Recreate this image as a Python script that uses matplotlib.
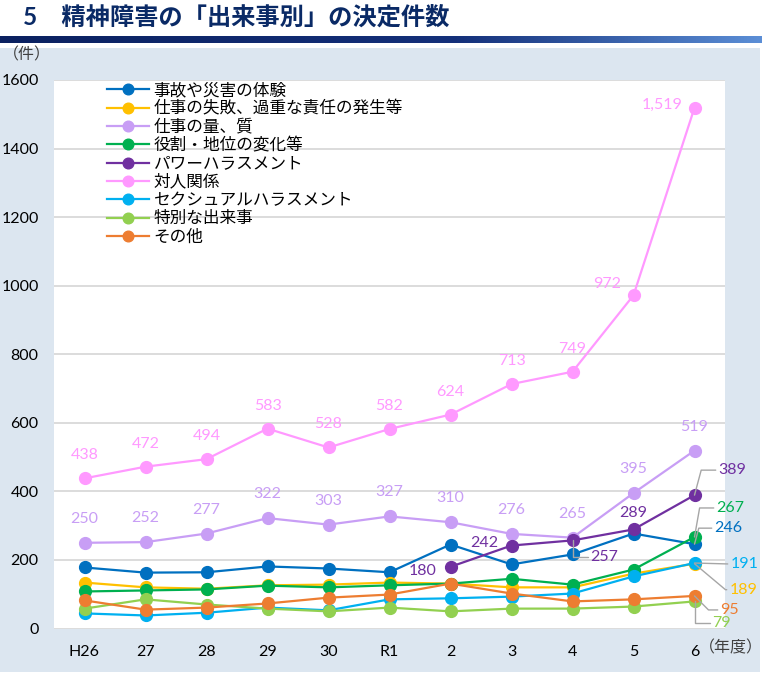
import numpy as np
import matplotlib
matplotlib.use("Agg")
import matplotlib.pyplot as plt
from matplotlib.patches import Rectangle
from matplotlib.colors import LinearSegmentedColormap

plt.rcParams['font.family'] = ['Lato', 'Noto Sans CJK JP', 'DejaVu Sans']

# fiscal years
years = ['H26', '27', '28', '29', '30', 'R1', '2', '3', '4', '5', '6']

# decided cases by event type
jiko = [178, 163, 164, 181, 175, 164, 245, 187, 216, 277, 246]
shippai = [134, 120, 116, 126, 128, 134, 131, 120, 120, 160, 189]
ryo_shitsu = [250, 252, 277, 322, 303, 327, 310, 276, 265, 395, 519]
yakuwari = [108, 111, 114, 125, 120, 126, 131, 145, 128, 172, 267]
pawahara = [np.nan] * 6 + [180, 242, 257, 289, 389]
taijin = [438, 472, 494, 583, 528, 582, 624, 713, 749, 972, 1519]
sekuhara = [44, 38, 46, 61, 53, 85, 88, 93, 102, 152, 191]
tokubetsu = [58, 85, 70, 58, 50, 61, 50, 58, 58, 64, 79]
sonota = [82, 55, 61, 73, 90, 99, 131, 102, 79, 85, 95]

names = ['事故や災害の体験', '仕事の失敗、過重な責任の発生等', '仕事の量、質',
         '役割・地位の変化等', 'パワーハラスメント', '対人関係',
         'セクシュアルハラスメント', '特別な出来事', 'その他']
series = [jiko, shippai, ryo_shitsu, yakuwari, pawahara, taijin, sekuhara, tokubetsu, sonota]
colors = ['#0070c0', '#ffc000', '#c89ef5', '#00b050', '#7030a0', '#ff99ff',
          '#00b0f0', '#92d050', '#ed7d31']

# which points get a value label: (series idx, point idx) -> (dx px, dy px, ha, leader)
label_pos = {}
for i in range(9):
    label_pos[(5, i)] = (0, 23, 'center', None)
for i in range(11):
    label_pos[(2, i)] = (0, 24, 'center', None)
label_pos[(5, 9)] = (-26, 11, 'center', None)
label_pos[(5, 10)] = (-12, 3, 'right', None)
label_pos[(4, 6)] = (-14, -4, 'right', None)
label_pos[(4, 7)] = (-13, 3, 'right', None)
label_pos[(4, 8)] = (18, -17, 'left', 'angle,angleA=0,angleB=90')
label_pos[(4, 9)] = (0, 16, 'center', None)
label_pos[(4, 10)] = (24, 25, 'left', 'angle,angleA=0,angleB=75')
label_pos[(0, 10)] = (20, 16, 'left', 'angle,angleA=0,angleB=75')
label_pos[(3, 10)] = (22, 29, 'left', 'angle,angleA=0,angleB=80')
label_pos[(6, 10)] = (36, -1, 'left', 'arc3')
label_pos[(1, 10)] = (35, -26, 'left', 'angle,angleA=0,angleB=-40')
label_pos[(8, 10)] = (26, -14, 'left', 'angle,angleA=0,angleB=-45')
label_pos[(7, 10)] = (18, -22, 'left', 'angle,angleA=0,angleB=-90')

W, H = 769, 678
fig = plt.figure(figsize=(W / 100, H / 100), dpi=100)
fig.patch.set_facecolor('white')

# light panel behind the chart
fig.patches.append(Rectangle((0, 6 / H), 760 / W, 624 / H, transform=fig.transFigure,
                             facecolor='#dce6f0', edgecolor='none', zorder=-5))

# gradient rule under the title
bar_ax = fig.add_axes([0, 635 / H, 762 / W, 7 / H])
cmap = LinearSegmentedColormap.from_list('rule', [(0, '#0b2160'), (0.6, '#14307a'), (1, '#5b8ed6')])
bar_ax.imshow(np.linspace(0, 1, 256).reshape(1, -1), aspect='auto', cmap=cmap)
bar_ax.axis('off')

fig.text(23 / W, 1 - 17 / H, '5　精神障害の「出来事別」の決定件数', fontsize=17.5,
         fontweight='bold', color='#0a2a66', va='center', ha='left')

ax = fig.add_axes([54 / W, 49.5 / H, 671 / W, 548.5 / H])
ax.set_facecolor('white')
x = np.arange(len(years))

for k, (name, vals, c) in enumerate(zip(names, series, colors)):
    ax.plot(x, vals, color=c, lw=1.6, marker='o', markersize=8.5, label=name, zorder=3 + k * 0.1)

px = 0.72  # points per pixel
for (k, i), (dx, dy, ha, leader) in label_pos.items():
    v = series[k][i]
    txt = f'{int(v):,}'
    if leader is None:
        ax.annotate(txt, (x[i], v), xytext=(dx * px, dy * px), textcoords='offset points',
                    ha=ha, va='center', fontsize=11.5, color=colors[k], annotation_clip=False, zorder=6)
    else:
        ax.annotate(txt, (x[i], v), xytext=(dx * px, dy * px), textcoords='offset points',
                    ha=ha, va='center', fontsize=11.5, color=colors[k], annotation_clip=False, zorder=6,
                    arrowprops=dict(arrowstyle='-', color='#a6a6a6', lw=1, shrinkA=0, shrinkB=0,
                                    relpos=(0, 0.5), connectionstyle=leader))

ax.set_xlim(-0.5, len(years) - 0.5)
ax.set_ylim(0, 1600)
ax.set_yticks(np.arange(0, 1601, 200))
ax.set_xticks(x)
ax.set_xticklabels(years)
ax.tick_params(axis='both', length=0, labelsize=11.5, labelcolor='#000000')
ax.tick_params(axis='y', pad=11)
ax.tick_params(axis='x', pad=12)
ax.yaxis.grid(True, color='#d9d9d9', lw=1.3)
ax.set_axisbelow(True)
for s in ax.spines.values():
    s.set_visible(False)

cjk = ['Noto Sans CJK JP']
fig.text(27 / W, 1 - 55 / H, '（件）', fontsize=11.5, color='#404040', va='center', ha='center', family=cjk)
fig.text(731 / W, 1 - 648 / H, '（年度）', fontsize=11.5, color='#404040', va='center', ha='center', family=cjk)

ax.legend(loc='upper left', bbox_to_anchor=(53 / 671, 1 - 2 / 548.5), frameon=False, fontsize=12,
          borderaxespad=0, borderpad=0, labelspacing=0.14, handlelength=2.5, handletextpad=0.3,
          markerscale=0.9)

fig.savefig('out.png', dpi=100, facecolor='white')
